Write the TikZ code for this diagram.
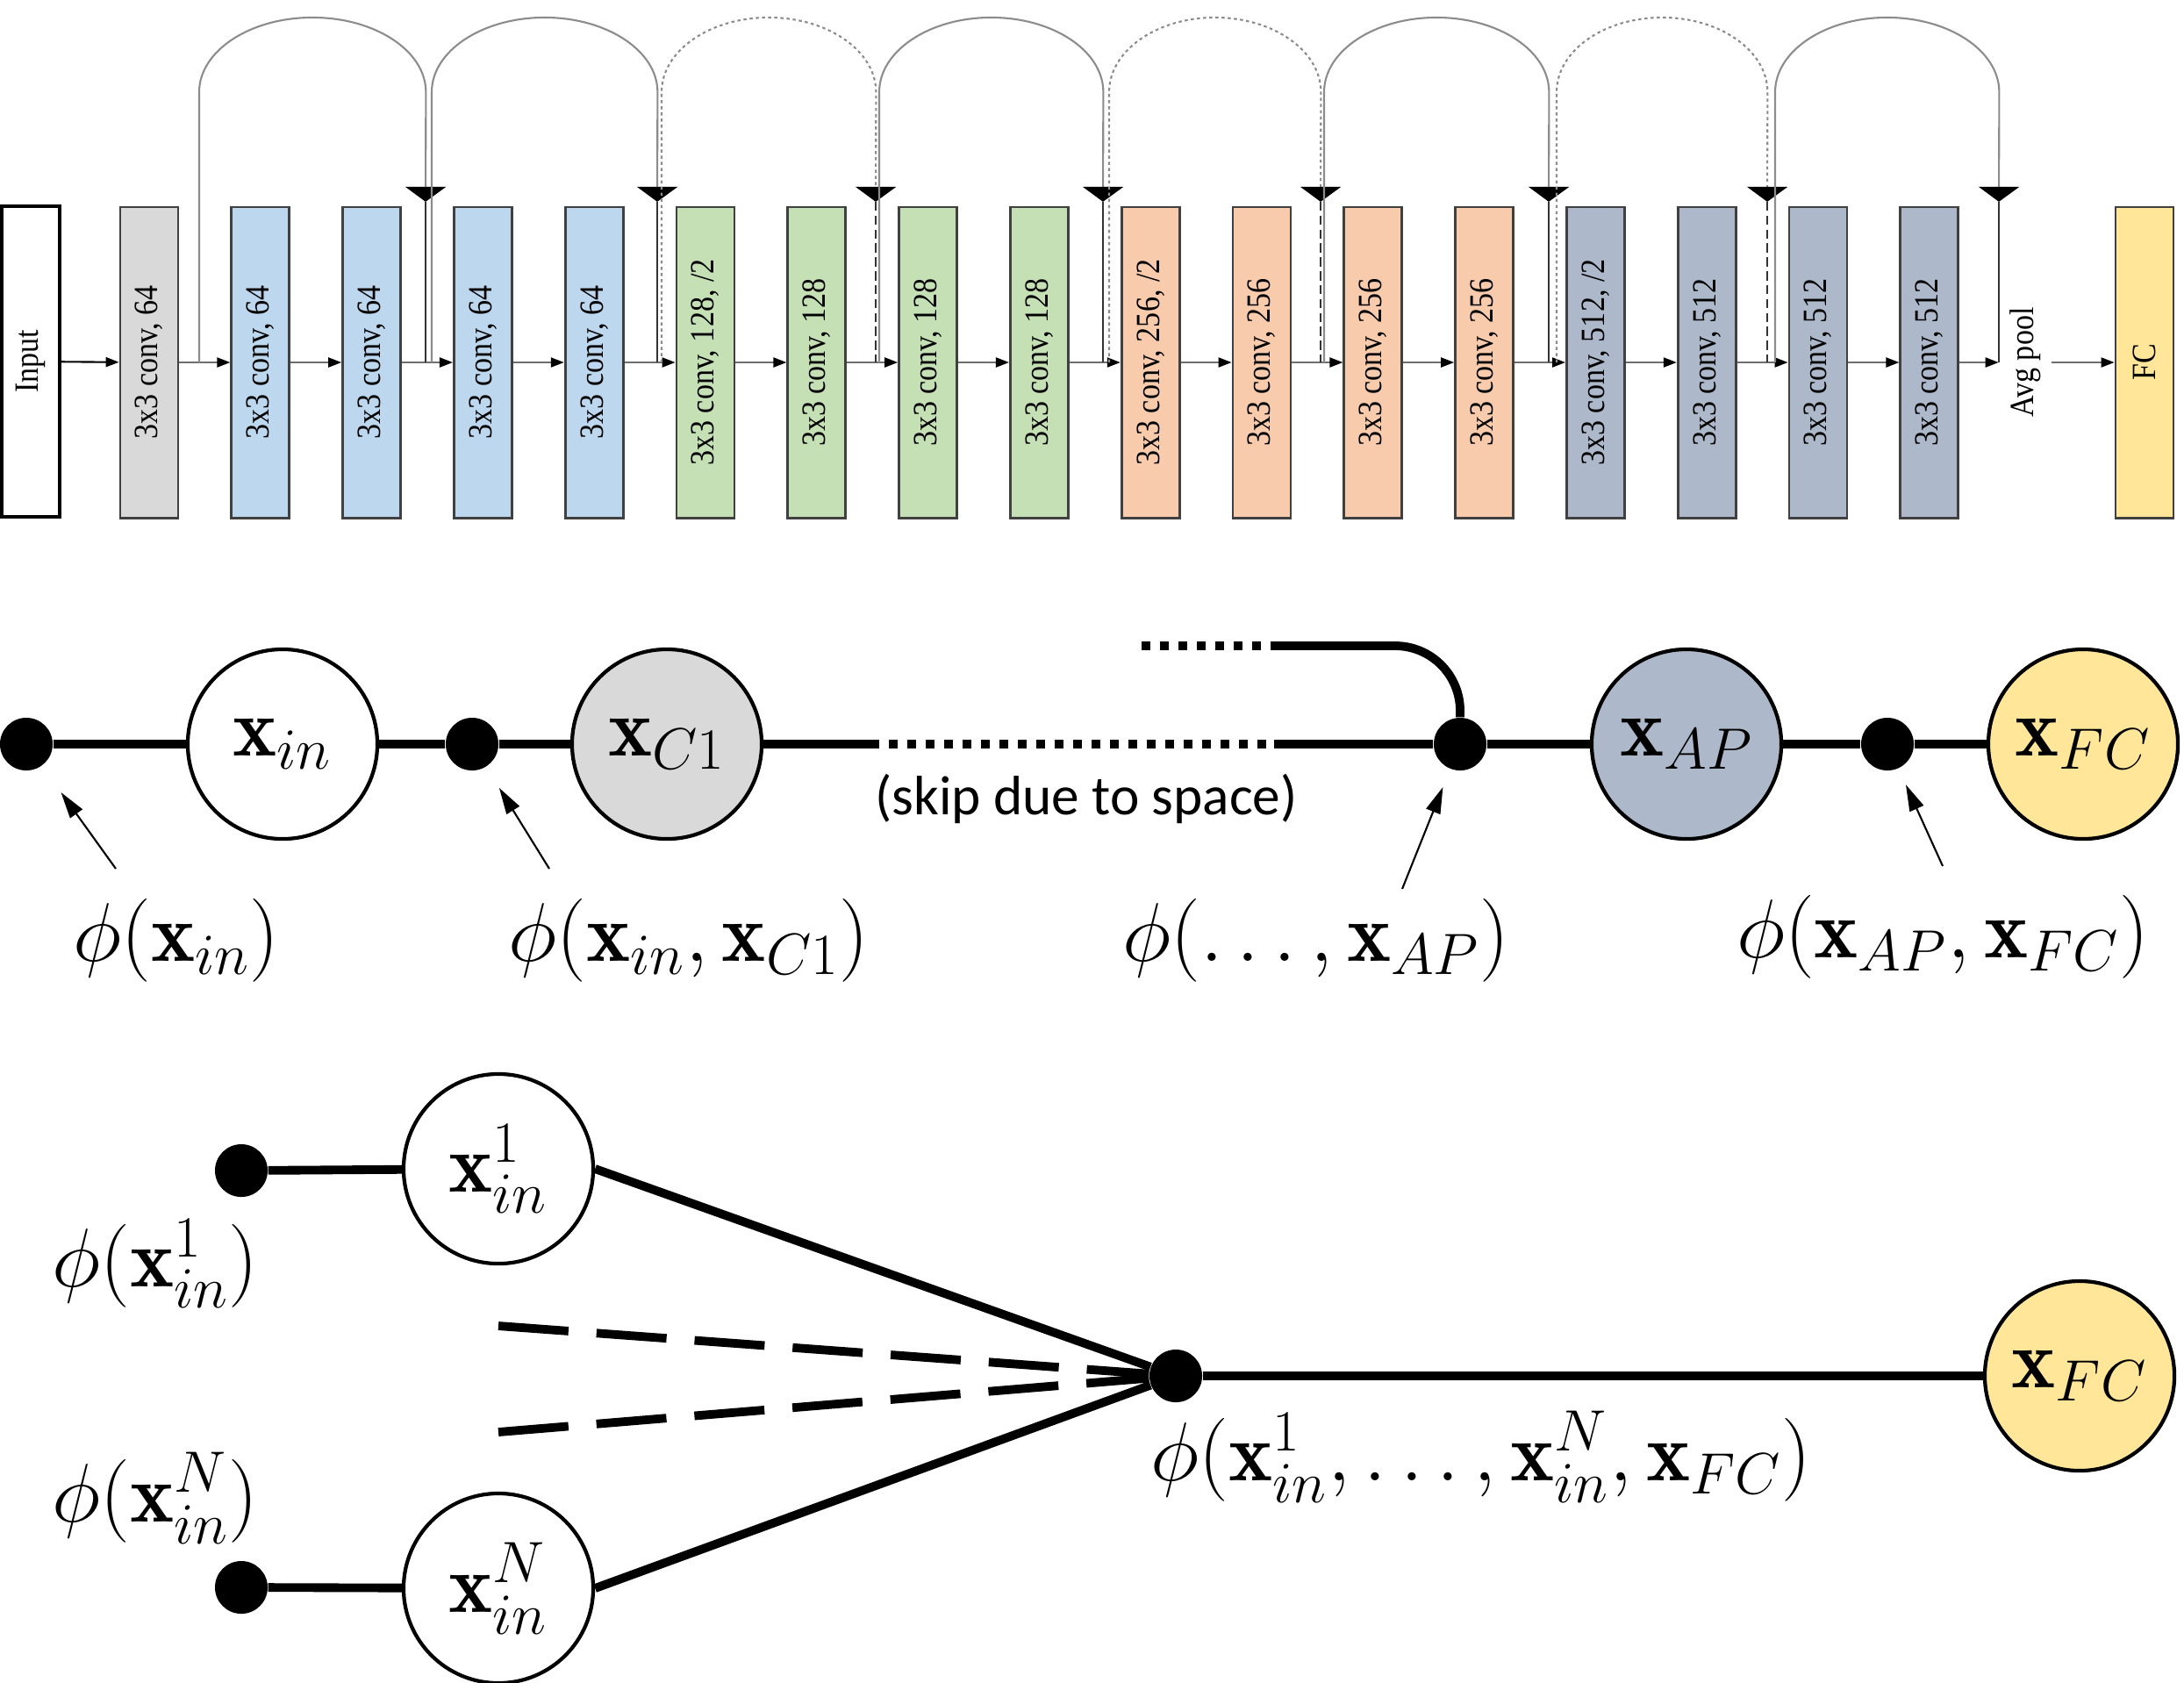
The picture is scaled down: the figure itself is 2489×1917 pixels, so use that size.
\RequirePackage{fix-cm}
\documentclass[tikz,border=0pt]{standalone}
\usepackage{amsmath}
\usepackage{amssymb}
\usepackage{fontspec}
\usepackage{graphicx}
\usepackage{tikz}
\usetikzlibrary{arrows.meta}
\newfontfamily\netfont{Liberation Serif}
\newfontfamily\notefont{Carlito}
\newcommand{\convScale}[0]{0.88}
\newcommand{\wireWidth}[0]{2.8pt}
\newcommand{\convText}[1]{\rotatebox{90}{\scalebox{\convScale}[1]{#1}}}
\definecolor{convgray}{HTML}{D9D9D9}
\definecolor{convblue}{HTML}{BDD7EE}
\definecolor{convgreen}{HTML}{C5E0B4}
\definecolor{convorange}{HTML}{F8CBAD}
\definecolor{convslate}{HTML}{ADB9CA}
\definecolor{convyellow}{HTML}{FFE699}
\definecolor{boxedge}{HTML}{404040}
\definecolor{linegray}{HTML}{6E6E6E}
\definecolor{arcgray}{HTML}{8C8C8C}

\begin{document}
\begin{tikzpicture}[x=0.01cm, y=0.01cm]
  \tikzset{conv/.style={draw=boxedge, line width=0.8pt, minimum width=0.66cm, minimum height=3.54cm, inner sep=0pt, font=\netfont\fontsize{11}{13}\selectfont},
    flow/.style={draw=linegray, line width=0.6pt, -{Triangle[length=0.15cm, width=0.11cm, color=black]}},
    skiparc/.style={draw=arcgray, line width=0.6pt, -{Triangle[length=0.17cm, width=0.46cm, color=black]}},
    dotarc/.style={skiparc, dash pattern=on 1pt off 1pt},
    skipfoot/.style={draw=black!80, line width=0.8pt},
    dashfoot/.style={skipfoot, dash pattern=on 3pt off 1.5pt},
    feat/.style={circle, draw, line width=1.2pt, minimum size=2.16cm, inner sep=0pt, font=\fontsize{27}{31}\selectfont},
    dot/.style={circle, fill, minimum size=0.6cm, inner sep=0pt},
    wire/.style={line width=\wireWidth},
    dotwire/.style={wire, dash pattern=on 0.1cm off 0.11cm},
    dashwire/.style={wire, dash pattern=on 0.8cm off 0.32cm},
    pointer/.style={line width=0.6pt, -{Triangle[length=0.3cm, width=0.17cm]}},
    philabel/.style={font=\fontsize{27}{31}\selectfont, inner sep=0pt}}
  \useasboundingbox (0,0) rectangle (2489,-1917);

  \node[conv, draw=black, line width=1.2pt, fill=white] (in) at (35,-412) {\convText{Input}};
  \foreach \lab/\col [count=\i from 0] in {{3x3 conv, 64}/convgray, {3x3 conv, 64}/convblue, {3x3 conv, 64}/convblue, {3x3 conv, 64}/convblue, {3x3 conv, 64}/convblue, {3x3 conv, 128, /2}/convgreen, {3x3 conv, 128}/convgreen, {3x3 conv, 128}/convgreen, {3x3 conv, 128}/convgreen, {3x3 conv, 256, /2}/convorange, {3x3 conv, 256}/convorange, {3x3 conv, 256}/convorange, {3x3 conv, 256}/convorange, {3x3 conv, 512, /2}/convslate, {3x3 conv, 512}/convslate, {3x3 conv, 512}/convslate, {3x3 conv, 512}/convslate}
    \node[conv, fill=\col] (b\i) at ({170+126.8*\i},-413) {\convText{\lab}};
  \node[font=\netfont\fontsize{11}{13}\selectfont, inner sep=0.12cm] (avg) at (2308,-413) {\convText{Avg pool}};
  \node[conv, fill=convyellow] (fc) at (2444,-413) {\convText{FC}};

  \draw[flow, draw=black] (in) -- (b0);
  \foreach \i [remember=\i as \j (initially 0)] in {1,...,16}
    \draw[flow] (b\j) -- (b\i);
  \draw[flow] (b16) -- (avg);
  \draw[flow] (avg) -- (fc);

  \foreach \s/\e/\up/\down [count=\k] in {227/485/skiparc/skipfoot, 492/749/skiparc/skipfoot, 754/998/dotarc/dashfoot, 1002/1257/skiparc/skipfoot, 1264/1505/dotarc/dashfoot, 1509/1765/skiparc/skipfoot, 1774/2014/dotarc/dashfoot, 2023/2278/skiparc/skipfoot} {
    \coordinate (s\k) at (\s,-413);
    \coordinate (e\k) at (\e,-413);
    \draw[\up] (s\k) -- ++(0,308) arc[start angle=180, end angle=0, x radius={(\e-\s)*0.005cm}, y radius=0.85cm] -- ([yshift=1.83cm]e\k);
    \draw[\down] ([yshift=1.83cm]e\k) -- (e\k);
  }

  \node[dot] (d1) at (30,-848) {};
  \node[feat] (xin) at (322,-848) {$\mathbf{x}_{in}$};
  \node[dot] (d2) at (538,-848) {};
  \node[feat, fill=convgray] (xc1) at (760,-848) {$\mathbf{x}_{C1}$};
  \coordinate (gapL) at (992,-848);
  \coordinate (gapR) at (1452,-848);
  \coordinate (upL) at (1301,-736);
  \coordinate (upR) at (1450,-736);
  \node[dot] (d3) at (1664,-848) {};
  \node[feat, fill=convslate] (xap) at (1922,-848) {$\mathbf{x}_{AP}$};
  \node[dot] (d4) at (2151,-848) {};
  \node[feat, fill=convyellow] (xfc) at (2374,-848) {$\mathbf{x}_{FC}$};
  \draw[wire] (d1) -- (xin) -- (d2) -- (xc1) -- (gapL);
  \draw[dotwire] (gapL) -- (gapR);
  \draw[wire] (gapR) -- (d3) -- (xap) -- (d4) -- (xfc);
  \draw[dotwire] (upL) -- (upR);
  \draw[wire, rounded corners=0.74cm] (upR) -| (d3);

  \node[philabel] (l1) at (201,-1072) {$\phi(\mathbf{x}_{in})$};
  \node[philabel] (l2) at (785,-1072) {$\phi(\mathbf{x}_{in},\mathbf{x}_{C1})$};
  \node[philabel] (l3) at (1500,-1072) {$\phi(\ldots,\mathbf{x}_{AP})$};
  \node[philabel] (l4) at (2214,-1068) {$\phi(\mathbf{x}_{AP},\mathbf{x}_{FC})$};
  \node[font=\notefont\fontsize{18}{22}\selectfont] (note) at (1238,-910) {(skip due to space)};
  \coordinate (t1) at (132,-990);
  \coordinate (t2) at (626,-990);
  \coordinate (t3) at (1598,-1013);
  \coordinate (t4) at (2214,-987);
  \draw[pointer, shorten >=0.37cm] (t1) -- (d1);
  \draw[pointer, shorten >=0.28cm] (t2) -- (d2);
  \draw[pointer, shorten >=0.22cm] (t3) -- (d3);
  \draw[pointer, shorten >=0.2cm] (t4) -- (d4);

  \node[dot] (e1) at (275,-1334) {};
  \node[feat] (n1) at (568,-1332) {$\mathbf{x}_{in}^{1}$};
  \node[dot] (eN) at (275,-1809) {};
  \node[feat] (nN) at (568,-1810) {$\mathbf{x}_{in}^{N}$};
  \node[dot] (hub) at (1340,-1568) {};
  \node[feat, fill=convyellow] (bfc) at (2370,-1568) {$\mathbf{x}_{FC}$};
  \coordinate (f1) at (568,-1511);
  \coordinate (f2) at (568,-1632);
  \draw[wire] (e1) -- (n1);
  \draw[wire] (eN) -- (nN);
  \draw[wire] (n1.east) -- (hub);
  \draw[wire] (nN.east) -- (hub);
  \draw[wire] (hub) -- (bfc);
  \draw[dashwire] (f1) -- (hub);
  \draw[dashwire] (f2) -- (hub);
  \node[philabel] (p1) at (177,-1440) {$\phi(\mathbf{x}_{in}^{1})$};
  \node[philabel] (pN) at (177,-1707) {$\phi(\mathbf{x}_{in}^{N})$};
  \node[philabel] (pall) at (1688,-1660) {$\phi(\mathbf{x}_{in}^{1},\ldots,\mathbf{x}_{in}^{N},\mathbf{x}_{FC})$};
\end{tikzpicture}
\end{document}
